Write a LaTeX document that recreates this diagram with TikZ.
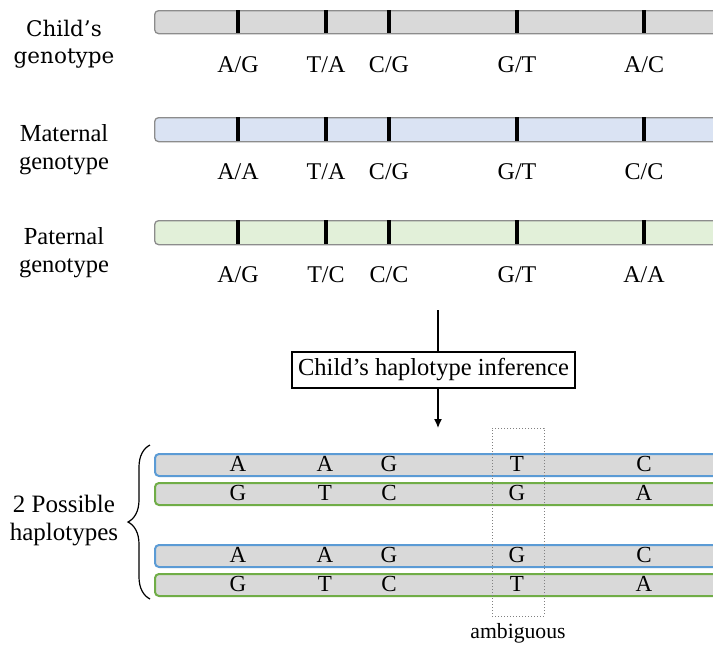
\documentclass[tikz,border=0pt]{standalone}
\usepackage{fontspec}
\setmainfont{Liberation Serif}
\newfontfamily\dvs{DejaVu Serif}
\usetikzlibrary{arrows.meta,decorations.pathreplacing}
\definecolor{barline}{HTML}{8C8C8C}
\definecolor{childfill}{HTML}{D9D9D9}
\definecolor{matfill}{HTML}{DAE3F3}
\definecolor{patfill}{HTML}{E2F0D9}
\definecolor{hapblue}{HTML}{5B9BD5}
\definecolor{hapgreen}{HTML}{70AD47}
\tikzset{
  genobar/.style={draw=barline, line width=1.3pt, rounded corners=4pt, minimum width=640pt, minimum height=23pt, anchor=north west, inner sep=0pt},
  hapbar/.style={line width=2pt, fill=childfill, rounded corners=4pt, minimum width=640pt, minimum height=22pt, anchor=north west, inner sep=0pt},
  tickmark/.style={line width=3.3pt},
  glabel/.style={font=\fontsize{24}{28}\selectfont, inner sep=0pt},
  sidelabel/.style={align=center, inner sep=0pt},
  hletter/.style={font=\fontsize{23}{27}\selectfont, inner sep=0pt},
}
\begin{document}
\begin{tikzpicture}[x=1pt,y=-1pt]
\clip (0,0) rectangle (713,646);
\fill[white] (0,0) rectangle (713,646);

% side labels
\node[sidelabel, font=\dvs\fontsize{21.5}{27}\selectfont] (lchild) at (64,44) {Child’s\\genotype};
\node[sidelabel, font=\fontsize{24.5}{28}\selectfont] (lmat) at (64,150) {Maternal\\genotype};
\node[sidelabel, font=\fontsize{24.5}{28}\selectfont] (lpat) at (64,253) {Paternal\\genotype};

% genotype bars
\node[genobar, fill=childfill] (cbar) at (154,10) {};
\node[genobar, fill=matfill, minimum height=24pt] (mbar) at (154,117) {};
\node[genobar, fill=patfill, minimum height=24pt] (pbar) at (154,220) {};

\foreach \x in {238,326,389,517,644}{
  \draw[tickmark] (\x,10) -- (\x,33);
  \draw[tickmark] (\x,117) -- (\x,141);
  \draw[tickmark] (\x,220) -- (\x,244);
}

% genotype labels
\node[glabel] (c1) at (238,65) {A/G};
\node[glabel] (c2) at (326,65) {T/A};
\node[glabel] (c3) at (389,65) {C/G};
\node[glabel] (c4) at (517,65) {G/T};
\node[glabel] (c5) at (644,65) {A/C};

\node[glabel] (m1) at (238,172) {A/A};
\node[glabel] (m2) at (326,172) {T/A};
\node[glabel] (m3) at (389,172) {C/G};
\node[glabel] (m4) at (517,172) {G/T};
\node[glabel] (m5) at (644,172) {C/C};

\node[glabel] (p1) at (238,275) {A/G};
\node[glabel] (p2) at (326,275) {T/C};
\node[glabel] (p3) at (389,275) {C/C};
\node[glabel] (p4) at (517,275) {G/T};
\node[glabel] (p5) at (644,275) {A/A};

% inference box and arrow
\coordinate (atop) at (438,310);
\coordinate (abot) at (438,428);
\node[draw, line width=1.3pt, minimum width=283pt, minimum height=36pt, inner sep=0pt, font=\fontsize{24.5}{28}\selectfont] (infbox) at (433.5,370) {Child’s haplotype inference};
\draw[line width=1.3pt] (atop) -- (atop |- infbox.north);
\draw[line width=1.3pt, -{Latex[length=9pt,width=8pt]}] (infbox.south -| atop) -- (abot);

% haplotype bars
\node[hapbar, draw=hapblue] (h1) at (154,453) {};
\node[hapbar, draw=hapgreen] (h2) at (154,482) {};
\node[hapbar, draw=hapblue] (h3) at (154,544) {};
\node[hapbar, draw=hapgreen] (h4) at (154,573) {};

\foreach \r/\y/\a/\b/\c/\d/\e in {1/464/A/A/G/T/C, 2/493/G/T/C/G/A, 3/555/A/A/G/G/C, 4/584/G/T/C/T/A}{
  \node[hletter] (l\r a) at (238,\y) {\a};
  \node[hletter] (l\r b) at (325,\y) {\b};
  \node[hletter] (l\r c) at (389,\y) {\c};
  \node[hletter] (l\r d) at (517,\y) {\d};
  \node[hletter] (l\r e) at (644,\y) {\e};
}

% ambiguous box
\node[draw=gray, dotted, line width=1pt, minimum width=52pt, minimum height=188pt, inner sep=0pt] (amb) at (518,522) {};
\node[font=\fontsize{21.7}{25}\selectfont, inner sep=0pt] (ambl) at (518,633) {ambiguous};

% brace
\coordinate (bbot) at (150,599);
\coordinate (btop) at (150,445);
\draw[line width=1.2pt, decorate, decoration={brace, amplitude=22pt}] (bbot) -- (btop);
\node[sidelabel, font=\fontsize{25}{28}\selectfont] (lhap) at (64,521) {2 Possible\\haplotypes};
\end{tikzpicture}
\end{document}
